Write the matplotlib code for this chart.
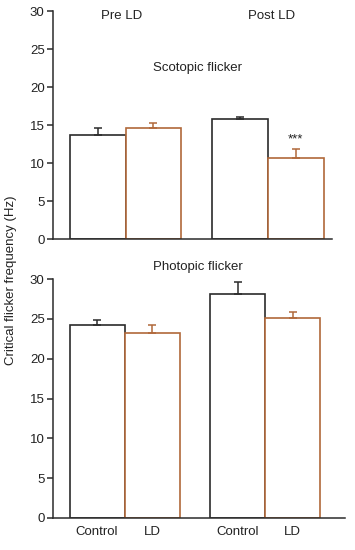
import matplotlib
matplotlib.use("Agg")
import matplotlib.pyplot as plt

plt.rcParams['font.family'] = ['Liberation Sans', 'DejaVu Sans']

groups = ["Pre LD", "Post LD"]
conditions = ["Control", "LD", "Control", "LD"]
scotopic_mean = [13.7, 14.6, 15.75, 10.7]
scotopic_err = [0.9, 0.6, 0.3, 1.1]
photopic_mean = [24.2, 23.2, 28.1, 25.05]
photopic_err = [0.7, 1.0, 1.5, 0.75]
yticks = [0, 5, 10, 15, 20, 25, 30]

W, H = 355, 550
fig = plt.figure(figsize=(W / 100, H / 100), dpi=100)

black = '#2b2b2b'
brown = '#b0683a'
colors = [black, brown, black, brown]
xpos = [0.8, 1.8, 3.35, 4.35]

def panel(rect, means, errs, xmax):
    ax = fig.add_axes(rect)
    for x, m, e, c in zip(xpos, means, errs, colors):
        ax.bar(x, m, width=1.0, facecolor='white', edgecolor=c, linewidth=1.2, zorder=2)
        ax.errorbar(x, m, yerr=[[0], [e]], fmt='none', ecolor=c, elinewidth=1.1,
                    capsize=3, capthick=1.1, zorder=3)
    ax.set_xlim(0, xmax)
    ax.set_ylim(0, 30)
    ax.set_yticks(yticks)
    ax.spines['top'].set_visible(False)
    ax.spines['right'].set_visible(False)
    for s in ['left', 'bottom']:
        ax.spines[s].set_color(black)
        ax.spines[s].set_linewidth(1.1)
    ax.tick_params(axis='y', direction='out', length=4, width=1.1, color=black,
                   labelsize=9.5, pad=2, labelcolor='#222222')
    ax.patch.set_alpha(0)
    return ax

ax1 = panel([53 / W, (H - 239) / H, 279 / W, 228 / H], scotopic_mean, scotopic_err, 5.0)
ax1.set_xticks([])
ax2 = panel([53 / W, 32 / H, 292 / W, 239 / H], photopic_mean, photopic_err, 5.3)
ax2.set_xticks(xpos)
ax2.set_xticklabels(conditions)
ax2.tick_params(axis='x', length=0, labelsize=9.5, pad=6, labelcolor='#222222')

# annotations
fig.text(122 / W, 1 - 16 / H, groups[0], ha='center', va='center', fontsize=9.5, color='#222222')
fig.text(272 / W, 1 - 16 / H, groups[1], ha='center', va='center', fontsize=9.5, color='#222222')
fig.text(153 / W, 1 - 68 / H, "Scotopic flicker", ha='left', va='center', fontsize=9.5, color='#222222')
fig.text(153 / W, 1 - 267 / H, "Photopic flicker", ha='left', va='center', fontsize=9.5, color='#222222')
ax1.text(xpos[3], scotopic_mean[3] + scotopic_err[3] + 0.5, "***", ha='center', va='bottom',
         fontsize=9.5, color='#222222')
fig.text(11 / W, 1 - 280 / H, "Critical flicker frequency (Hz)", rotation=90,
         ha='center', va='center', fontsize=9.5, color='#222222')

fig.savefig("out.png", dpi=100)
